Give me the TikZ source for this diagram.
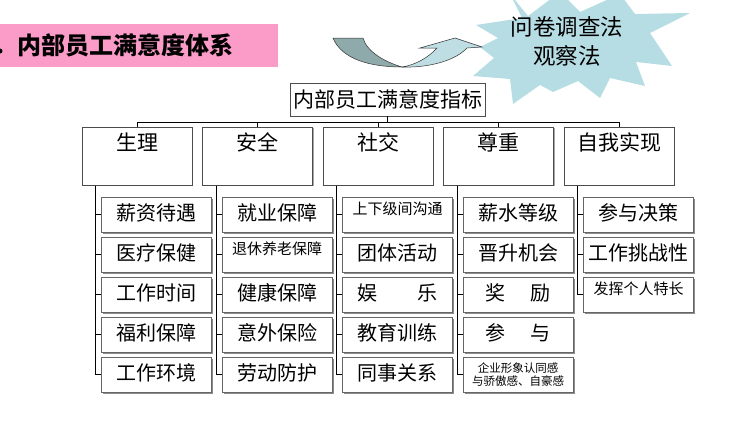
\documentclass[tikz,border=0pt]{standalone}
\usepackage{fontspec}
\setmainfont{Noto Sans CJK SC}
\usetikzlibrary{shadows}

\definecolor{titlepink}{RGB}{250,155,200}
\definecolor{starblue}{RGB}{183,221,228}
\definecolor{arrowdark}{RGB}{143,170,170}
\definecolor{arrowlight}{RGB}{190,222,228}

\tikzset{
    conn/.style={draw=black, line width=0.8pt},
    rootbox/.style={draw=black!70, line width=0.6pt, minimum width=195pt, minimum height=33pt,
        inner sep=0pt, font=\fontsize{21}{24}\selectfont},
    catbox/.style={draw=black!70, line width=0.6pt, fill=white, minimum width=110pt,
        inner xsep=0pt, inner ysep=3pt, text height=20pt, text depth=32pt,
        font=\fontsize{21}{24}\selectfont,
        general shadow={shadow xshift=1pt, shadow yshift=-1pt, fill=black!35}},
    itembox/.style={draw=black!60, line width=0.6pt, fill=white, minimum width=110pt,
        minimum height=35pt, inner sep=0pt, text height=17pt, text depth=5pt,
        font=\fontsize{20}{24}\selectfont,
        general shadow={shadow xshift=1.6pt, shadow yshift=-1.6pt, fill=black!45}},
    smallitem/.style={itembox, text height=12pt, text depth=12pt, font=\fontsize{15}{18}\selectfont},
    tinyitem/.style={itembox, align=center, text height=, text depth=, font=\fontsize{11.5}{13}\selectfont}
}

\begin{document}
\begin{tikzpicture}[x=1pt, y=-1pt]
    \useasboundingbox (0,0) rectangle (739,423);

    % title bar
    \node[fill=titlepink, anchor=north west, minimum width=278pt, minimum height=43pt,
        inner xsep=17pt, text width=244pt, align=left,
        font=\fontsize{24}{28}\selectfont\bfseries] (titlebar) at (0,24) {内部员工满意度体系};
    \fill (0,51) circle (2.5pt);

    % star and turn arrow
    \fill[starblue] (510,-6) -- (528,16) -- (560,-8) -- (580,12) -- (620,-6) -- (635,14)
        -- (690,13) -- (650,33) -- (672,66) -- (636,62) -- (645,86) -- (610,78)
        -- (600,98) -- (578,81) -- (553,92) -- (540,85) -- (513,104) -- (510,79)
        -- (473,76) -- (494,58) -- (480,47) -- (498,38) -- (476,25) -- (522,18) -- cycle;
    \node[align=center, font=\fontsize{22.5}{29}\selectfont] (methods) at (567,41) {问卷调查法\\观察法};

    \filldraw[fill=arrowdark, draw=black!80, line width=0.5pt]
        (333,38) .. controls (342,60) and (372,67) .. (402,67)
        .. controls (385,62) and (367,52) .. (363,38) -- cycle;
    \filldraw[fill=arrowlight, draw=black!80, line width=0.5pt]
        (402,67) .. controls (430,68) and (456,60) .. (467,48) -- (482,47) -- (455,38)
        -- (420,48) -- (437,48) .. controls (428,58) and (415,65) .. (402,67) -- cycle;

    % tree
    \node[rootbox] (root) at (387.5,99.5) {内部员工满意度指标};

    \node[catbox, anchor=north] (phys) at (137,127) {生理};
    \node[catbox, anchor=north] (safe) at (257.5,127) {安全};
    \node[catbox, anchor=north] (soc) at (378,127) {社交};
    \node[catbox, anchor=north] (est) at (498.5,127) {尊重};
    \node[catbox, anchor=north] (self) at (619,127) {自我实现};

    \foreach \c in {phys,safe,soc,est,self}
        \draw[conn] (root.south) -- ++(0,6) -| (\c.north);

    \node[itembox] (phys1) at (156.5,214.5) {薪资待遇};
    \node[itembox] (phys2) at (156.5,254.5) {医疗保健};
    \node[itembox] (phys3) at (156.5,294.5) {工作时间};
    \node[itembox] (phys4) at (156.5,334.5) {福利保障};
    \node[itembox] (phys5) at (156.5,374.5) {工作环境};

    \node[itembox] (safe1) at (277,214.5) {就业保障};
    \node[smallitem] (safe2) at (277,254.5) {退休养老保障};
    \node[itembox] (safe3) at (277,294.5) {健康保障};
    \node[itembox] (safe4) at (277,334.5) {意外保险};
    \node[itembox] (safe5) at (277,374.5) {劳动防护};

    \node[smallitem] (soc1) at (397.5,214.5) {上下级间沟通};
    \node[itembox] (soc2) at (397.5,254.5) {团体活动};
    \node[itembox] (soc3) at (397.5,294.5) {娱\hspace{40pt}乐};
    \node[itembox] (soc4) at (397.5,334.5) {教育训练};
    \node[itembox] (soc5) at (397.5,374.5) {同事关系};

    \node[itembox] (est1) at (518,214.5) {薪水等级};
    \node[itembox] (est2) at (518,254.5) {晋升机会};
    \node[itembox] (est3) at (518,294.5) {奖\hspace{25pt}励};
    \node[itembox] (est4) at (518,334.5) {参\hspace{25pt}与};
    \node[tinyitem] (est5) at (518,374.5) {企业形象认同感\\与骄傲感、自豪感};

    \node[itembox] (self1) at (638.5,214.5) {参与决策};
    \node[itembox] (self2) at (638.5,254.5) {工作挑战性};
    \node[smallitem] (self3) at (638.5,294.5) {发挥个人特长};

    \foreach \c/\n in {phys/5,safe/5,soc/5,est/5,self/3}
        \foreach \i in {1,...,\n}
            \draw[conn] ([xshift=14pt]\c.south west) |- (\c\i.west);
\end{tikzpicture}
\end{document}
